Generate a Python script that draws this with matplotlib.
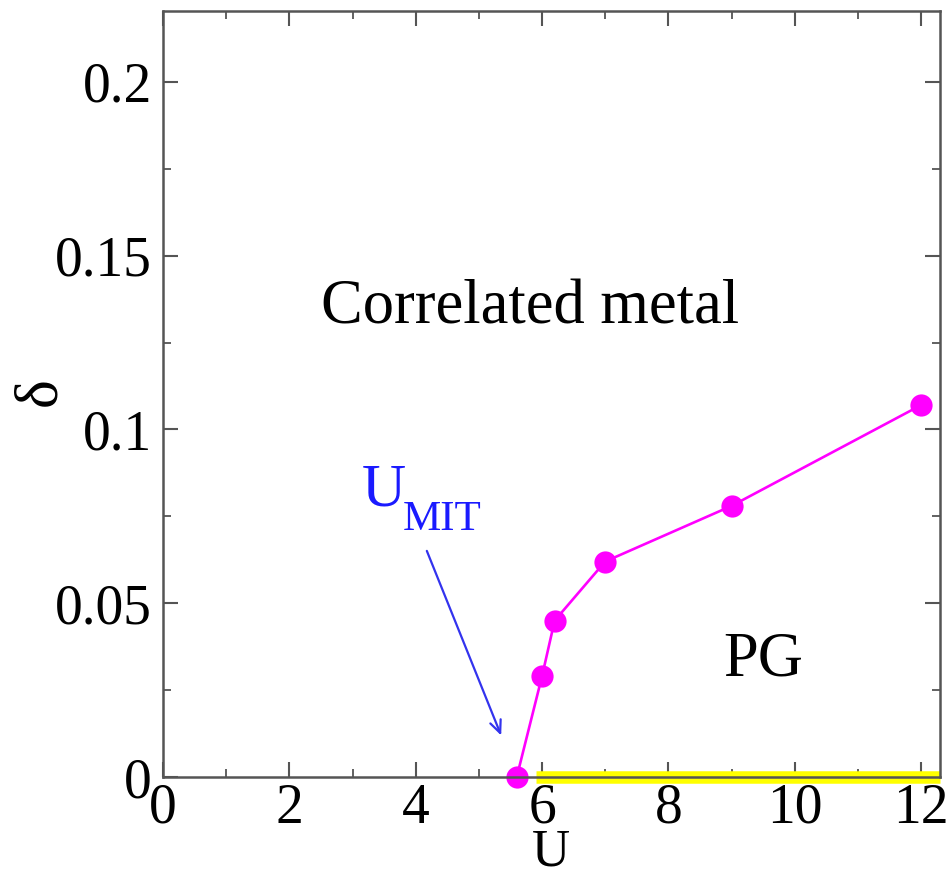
import matplotlib
matplotlib.use("Agg")
import matplotlib.pyplot as plt
from matplotlib.ticker import MultipleLocator

U_vals = [5.6, 6.0, 6.2, 7.0, 9.0, 12.0]
delta_vals = [0.0, 0.029, 0.045, 0.062, 0.078, 0.107]
pg_U = [5.9, 12.3]
pg_delta = [0.0, 0.0]

plt.rcParams['font.family'] = ['Liberation Serif', 'DejaVu Serif']

fig = plt.figure(figsize=(9.49, 8.77), dpi=100)
ax = fig.add_axes([163/949, 1-777/877, (940-163)/949, (777-11)/877])

ax.plot(pg_U, pg_delta, color='#ffff00', lw=9, solid_capstyle='butt', zorder=2.1, clip_on=False)
ax.plot(U_vals, delta_vals, color='#ff00ff', lw=1.9, marker='o', ms=16,
        markeredgewidth=0, zorder=2.2, clip_on=False)

ax.set_xlim(0, 12.3)
ax.set_ylim(0, 0.2204)
ax.xaxis.set_minor_locator(MultipleLocator(1))
ax.yaxis.set_minor_locator(MultipleLocator(0.025))
ax.set_xticks([0, 2, 4, 6, 8, 10, 12])
ax.set_xticklabels(['0', '2', '4', '6', '8', '10', '12'])
ax.set_yticks([0, 0.05, 0.1, 0.15, 0.2])
ax.set_yticklabels(['0', '0.05', '0.1', '0.15', '0.2'])

for s in ax.spines.values():
    s.set_color('#555555')
    s.set_linewidth(1.8)
    s.set_zorder(2.5)
ax.tick_params(which='both', direction='in', top=True, right=True, colors='#555555',
               labelcolor='black', labelsize=40)
ax.tick_params(which='major', length=11, width=1.5, pad=4)
ax.tick_params(which='minor', length=6, width=1.3)
ax.tick_params(axis='y', pad=8)

fig.text(551/949, 0.5/877, 'U', fontsize=38, ha='center', va='bottom')
fig.text(40/949, 1-392/877, 'δ', fontsize=44, ha='center', va='center', rotation=90)

ax.text(5.81, 0.1305, 'Correlated metal', fontsize=45, ha='center', va='baseline')
ax.text(9.5, 0.0293, 'PG', fontsize=45, ha='center', va='baseline')

ax.text(3.15, 0.0782, 'U', fontsize=44, color='#1a1aff', ha='left', va='baseline')
ax.text(3.80, 0.0710, 'MIT', fontsize=31, color='#1a1aff', ha='left', va='baseline')
ax.annotate('', xy=(5.37, 0.0112), xytext=(4.16, 0.0658),
            arrowprops=dict(arrowstyle='->,head_length=0.9,head_width=0.4', color='#3333ee', lw=1.6))

fig.savefig('out.png', dpi=100)
